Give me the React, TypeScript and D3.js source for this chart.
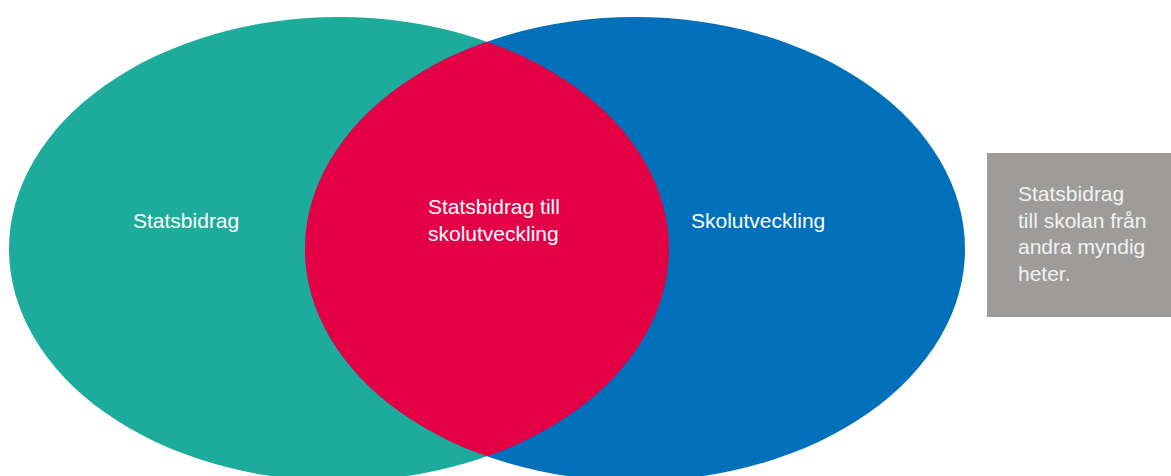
import React from 'react';
import * as d3 from 'd3';

// Venn sets and labels
const setNames = ['Statsbidrag', 'Skolutveckling'];
const setColors = ['#1dab9b', '#0070ba'];
const overlapLines = ['Statsbidrag till', 'skolutveckling'];
const overlapColor = '#e40045';
const noteLines = ['Statsbidrag', 'till skolan från', 'andra myndig', 'heter.'];
const noteColor = '#9d9c9a';

const W = 1171;
const H = 476;
const FONT = '"Liberation Sans", Arial, sans-serif';

const App: React.FC = () => {
  // horizontal placement of the two set centres (in set index units)
  const x = d3.scaleLinear().domain([0, 1]).range([339, 635]);
  const cy = 249;
  const rx = 330;
  const ry = 232;

  const lineY = d3.scaleLinear().domain([0, 1]).range([0, 26.5]);

  return (
    <svg width={W} height={H} style={{ position: 'absolute', left: 0, top: 0 }}>
      <defs>
        <clipPath id="left-set">
          <ellipse cx={x(0)} cy={cy} rx={rx} ry={ry} />
        </clipPath>
      </defs>
      {setNames.map((name, i) => (
        <ellipse key={name} cx={x(i)} cy={cy} rx={rx} ry={ry} fill={setColors[i]} />
      ))}
      <ellipse cx={x(1)} cy={cy} rx={rx} ry={ry} fill={overlapColor} clipPath="url(#left-set)" />

      <g fontFamily={FONT} fontSize={21} fill="#ffffff">
        <text x={133} y={228}>{setNames[0]}</text>
        <text x={691} y={228}>{setNames[1]}</text>
        {overlapLines.map((t, i) => (
          <text key={t} x={428} y={214 + lineY(i)}>{t}</text>
        ))}
      </g>

      <rect x={987} y={153} width={W - 987} height={164} fill={noteColor} />
      <g fontFamily={FONT} fontSize={21} fill="#f2f2f2">
        {noteLines.map((t, i) => (
          <text key={t} x={1018} y={201 + lineY(i)}>{t}</text>
        ))}
      </g>
    </svg>
  );
};

export default App;
